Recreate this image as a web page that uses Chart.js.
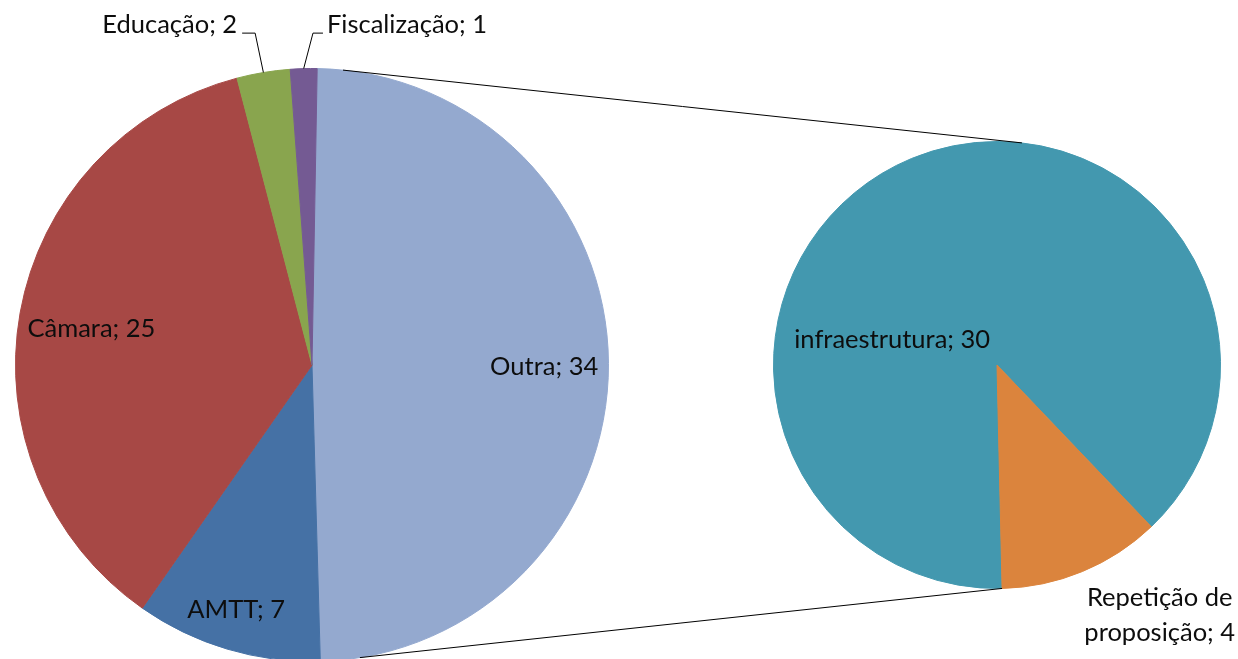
<!DOCTYPE html>
<html><head><meta charset="utf-8">
<script src="https://cdn.jsdelivr.net/npm/chart.js@4.4.0/dist/chart.umd.min.js"></script>
<style>
html,body{margin:0;padding:0;background:#fff;overflow:hidden;width:1238px;height:659px;position:relative}
canvas{position:absolute;left:0;top:0}
</style></head>
<body>
<canvas id="mainPie" width="1238" height="730"></canvas>
<canvas id="subPie" width="1238" height="730"></canvas>
<script>
// ---- data ----
const mainCategories = ['Outra', 'AMTT', 'Câmara', 'Educação', 'Fiscalização'];
const mainValues = [34, 7, 25, 2, 1];
const subCategories = ['infraestrutura', 'Repetição de proposição'];
const subValues = [30, 4];

// ---- style ----
const mainColors = ['#94A9CF', '#4571A5', '#A74845', '#89A54E', '#745A93'];
const subColors = ['#4398AF', '#DB843D'];
const FONT = '25.5px Lato, "Liberation Sans", sans-serif';
const TEXT = '#0d0d0d';

// label layout: offsets in units of pie radius from pie centre (x centre / baseline)
const mainLabelLayout = [
  {dx: 0.783, dy: 0.034, align: 'center'},
  {dx: -0.256, dy: 0.852, align: 'center'},
  {dx: -0.744, dy: -0.094, align: 'center'},
  {dx: -0.2525, dy: -1.121, align: 'right', leader: {start: 5, elbow: 18}},
  {dx: 0.0505, dy: -1.121, align: 'left', leader: {start: -4, elbow: -14}}
];
const subLabelLayout = [
  {dx: -0.469, dy: -0.076, align: 'center'},
  {dx: 0.728, dy: 1.080, align: 'center', wrap: 175, lineHeight: 35}
];
// connector angles (degrees clockwise from 12 o'clock)
const connector = {mainTop: 6.0, subTop: 6.4, mainBottom: 170.7, subBottom: 178.7};

function wrapText(ctx, text, maxW) {
  const words = text.split(' ');
  const lines = [];
  let cur = '';
  words.forEach(w => {
    const t = cur ? cur + ' ' + w : w;
    if (cur && ctx.measureText(t).width > maxW) { lines.push(cur); cur = w; }
    else cur = t;
  });
  if (cur) lines.push(cur);
  return lines;
}

function labelPlugin(layout, cats, vals) {
  return {
    id: 'pieLabels',
    afterDatasetsDraw(chart) {
      const ctx = chart.ctx;
      const arcs = chart.getDatasetMeta(0).data;
      const cx = arcs[0].x, cy = arcs[0].y, R = arcs[0].outerRadius;
      ctx.save();
      ctx.font = FONT;
      ctx.fillStyle = TEXT;
      ctx.textBaseline = 'alphabetic';
      arcs.forEach((arc, i) => {
        const L = layout[i];
        const x = cx + L.dx * R, y = cy + L.dy * R;
        const txt = cats[i] + '; ' + vals[i];
        const lines = L.wrap ? wrapText(ctx, txt, L.wrap) : [txt];
        ctx.textAlign = L.align;
        lines.forEach((ln, k) => ctx.fillText(ln, x, y + k * (L.lineHeight || 0)));
        if (L.leader) {
          const mid = (arc.startAngle + arc.endAngle) / 2;
          const px = cx + Math.cos(mid) * R, py = cy + Math.sin(mid) * R;
          ctx.beginPath();
          ctx.strokeStyle = '#000';
          ctx.lineWidth = 1;
          ctx.moveTo(x + L.leader.start, y + 0.5);
          ctx.lineTo(x + L.leader.elbow, y + 0.5);
          ctx.lineTo(px, py);
          ctx.stroke();
        }
      });
      ctx.restore();
    }
  };
}

function pieConfig(cats, vals, colors, rotation, padding, plugins) {
  return {
    type: 'pie',
    data: {
      labels: cats,
      datasets: [{
        data: vals,
        backgroundColor: colors,
        borderColor: colors,
        borderWidth: 1
      }]
    },
    options: {
      responsive: false,
      animation: false,
      rotation: rotation,
      layout: {padding: padding},
      plugins: {legend: {display: false}, tooltip: {enabled: false}}
    },
    plugins: plugins
  };
}

const mainChart = new Chart(document.getElementById('mainPie'),
  pieConfig(mainCategories, mainValues, mainColors, 1.0,
    {left: 15, right: 629, top: 68, bottom: 68},
    [labelPlugin(mainLabelLayout, mainCategories, mainValues)]));

const connectorPlugin = {
  id: 'connectors',
  afterDraw(chart) {
    const a = mainChart.getDatasetMeta(0).data[0];
    const b = chart.getDatasetMeta(0).data[0];
    const pt = (arc, deg) => {
      const t = (deg - 90) * Math.PI / 180;
      return [arc.x + Math.cos(t) * arc.outerRadius, arc.y + Math.sin(t) * arc.outerRadius];
    };
    const ctx = chart.ctx;
    ctx.save();
    ctx.strokeStyle = '#000';
    ctx.lineWidth = 1;
    [[connector.mainTop, connector.subTop], [connector.mainBottom, connector.subBottom]].forEach(([m, s]) => {
      const p1 = pt(a, m), p2 = pt(b, s);
      ctx.beginPath();
      ctx.moveTo(p1[0], p1[1]);
      ctx.lineTo(p2[0], p2[1]);
      ctx.stroke();
    });
    ctx.restore();
  }
};

const subChart = new Chart(document.getElementById('subPie'),
  pieConfig(subCategories, subValues, subColors, 178.7,
    {left: 773, right: 17, top: 141, bottom: 141},
    [labelPlugin(subLabelLayout, subCategories, subValues), connectorPlugin]));
</script>
</body></html>
